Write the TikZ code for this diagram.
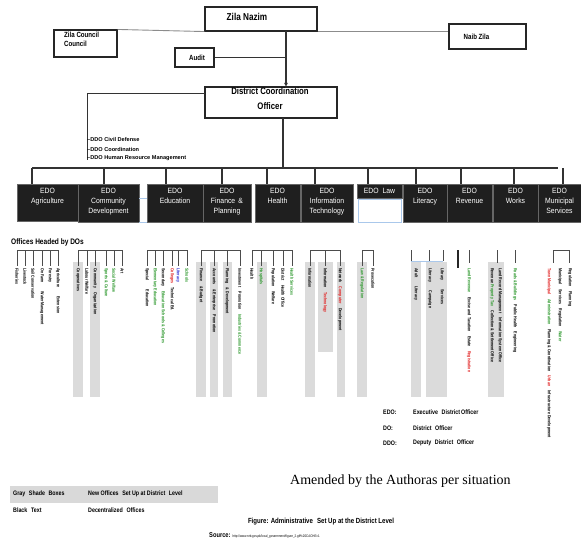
\documentclass[tikz,border=0pt]{standalone}
\usepackage{fontspec}
\setmainfont{Liberation Sans}
\newfontfamily\narrowf[FakeStretch=0.82]{Liberation Sans}
\newfontfamily\edof[FakeStretch=0.9]{Liberation Sans}
\newfontfamily\serf{Liberation Serif}
\usetikzlibrary{arrows.meta}
\definecolor{dgreen}{RGB}{40,150,40}
\definecolor{dred}{RGB}{225,30,30}
\definecolor{dblue}{RGB}{40,40,210}
\definecolor{lblue}{RGB}{170,200,235}
\newcommand{\docol}[2]{\node[dotxt] at (#1,268) {#2};}
\begin{document}
\begin{tikzpicture}[x=1pt,y=-1pt,
  topbox/.style={draw=black!85, line width=1.1pt, rectangle, inner sep=0},
  toptext/.style={font=\narrowf\bfseries\fontsize{7.5}{9}\selectfont, inner sep=0, align=left},
  edobox/.style={draw=black!60, fill=black!88, inner sep=0, line width=0.6pt, rectangle},
  edotext/.style={text=white, font=\edof\fontsize{7.6}{10.3}\selectfont, align=center, anchor=north, inner sep=0},
  conn/.style={line width=1.1pt, draw=black!80},
  grayconn/.style={line width=0.9pt, draw=black!45},
  dotxt/.style={rotate=-90, anchor=west, inner sep=0, font=\narrowf\bfseries\fontsize{4.4}{4.6}\selectfont},
  dol/.style={line width=0.9pt, draw=black!70},
  smalltxt/.style={font=\narrowf\bfseries\fontsize{6.5}{7}\selectfont, anchor=west, inner sep=0}
]
\useasboundingbox (0,0) rectangle (581,543);
\fill[white] (0,0) rectangle (581,543);

% ---------- top boxes ----------
\node[topbox, minimum width=112, minimum height=24] (nazim) at (261,19) {};
\node[toptext, font=\narrowf\bfseries\fontsize{10}{11}\selectfont] (nazimlbl) at (247,17) {Zila Nazim};
\node[topbox, minimum width=63, minimum height=27] (zc) at (85.5,43.5) {};
\node[toptext, anchor=north west] (zclbl) at (64,32) {Zila Council\\Council};
\node[topbox, minimum width=77, minimum height=25] (naib) at (487.5,36.5) {};
\node[toptext] (naiblbl) at (476.5,37) {Naib Zila};
\node[topbox, minimum width=39, minimum height=19] (audit) at (194.5,57.5) {};
\node[toptext] (auditlbl) at (197,58) {Audit};
\node[topbox, minimum width=132, minimum height=31] (dco) at (271,102.5) {};
\node[toptext, align=center, anchor=north, font=\narrowf\bfseries\fontsize{9.5}{15}\selectfont] (dcolbl) at (270,87.5) {District Coordination\\Officer};

% connectors at top
\draw[grayconn] (zc.north east) -- (nazim.south west);
\draw[grayconn] (nazim.south east) -- (nazim.south east -| naib.west);
\coordinate (nzb) at (286,31);
\draw[conn, -{Triangle[length=3.5pt,width=3.5pt]}] (nzb) -- (nzb |- dco.north);
\draw[conn] (audit.east) -- (audit.east -| nzb);
\coordinate (dcol) at (205,93);
\coordinate (ddocorner) at (87,93);
\coordinate (ddoend) at (87,160);
\draw[conn, line width=0.9pt] (dcol) -- (ddocorner) -- (ddoend);
\node[anchor=west, inner sep=0, font=\bfseries\fontsize{5.6}{6}\selectfont] (ddo1) at (87,139) {\textendash DDO Civil Defense};
\node[anchor=west, inner sep=0, font=\bfseries\fontsize{5.6}{6}\selectfont] (ddo2) at (87,149) {\textendash DDO Coordination};
\node[anchor=west, inner sep=0, font=\bfseries\fontsize{5.6}{6}\selectfont] (ddo3) at (87,158) {\textendash DDO Human Resource Management};

% bus
\coordinate (dcob) at (283,118);
\coordinate (busmid) at (283,168);
\draw[conn] (dcob) -- (busmid);
\coordinate (busl) at (32,168);
\coordinate (busr) at (558,168);
\draw[conn] (busl) -- (busr);

% ---------- EDO boxes ----------
\node[edobox, minimum width=61, minimum height=37] (agri) at (47.5,202.5) {};
\node[edobox, minimum width=61, minimum height=38] (cd) at (108.5,203) {};
\node[edobox, minimum width=56, minimum height=38] (edu) at (175,203) {};
\node[edobox, minimum width=48, minimum height=38] (fp) at (227,203) {};
\node[edobox, minimum width=45, minimum height=38] (hea) at (277.5,203) {};
\node[edobox, minimum width=52, minimum height=38] (it) at (327,203) {};
\node[edobox, minimum width=45, minimum height=14] (law) at (379.5,191) {};
\node[draw=lblue, fill=white, line width=0.6pt, inner sep=0, minimum width=43, minimum height=23] (lawb) at (379.5,210.5) {};
\node[edobox, minimum width=44, minimum height=38] (lit) at (425,203) {};
\node[edobox, minimum width=45, minimum height=38] (rev) at (469.5,203) {};
\node[edobox, minimum width=45, minimum height=38] (wor) at (515.5,203) {};
\node[edobox, minimum width=43, minimum height=38] (mun) at (559.5,203) {};
\draw[lblue, line width=0.6pt] (cd.east |- 0,198) -- (edu.west |- 0,198);
\draw[lblue, line width=0.6pt] (cd.south east) -- (edu.south west);

\node[edotext] (agril) at ([yshift=-4]agri.north) {EDO\\Agriculture};
\node[edotext] (cdl) at ([yshift=-4]cd.north) {EDO\\Community\\Development};
\node[edotext] (edul) at ([yshift=-4]edu.north) {EDO\\Education};
\node[edotext] (fpl) at ([yshift=-4]fp.north) {EDO\\Finance \,\&\\Planning};
\node[edotext] (heal) at ([yshift=-4]hea.north) {EDO\\Health};
\node[edotext] (itl) at ([yshift=-4]it.north) {EDO\\Information\\Technology};
\node[edotext, anchor=center] (lawl) at (law.center) {EDO\,\,\,Law};
\node[edotext] (litl) at ([yshift=-4]lit.north) {EDO\\Literacy};
\node[edotext] (revl) at ([yshift=-4]rev.north) {EDO\\Revenue};
\node[edotext] (worl) at ([yshift=-4]wor.north) {EDO\\Works};
\node[edotext] (munl) at ([yshift=-4]mun.north) {EDO\\Municipal\\Services};

\foreach \x/\b in {32/agri,104/cd,166/edu,222/fp,267/hea,315/it,368/law,416/lit,461/rev,514/wor}
  \draw[conn] (\x,168) -- (\x,168 |- \b.north);
\coordinate (tick) at (563,168);
\draw[conn] (tick) -- (tick |- mun.north);

% ---------- Offices headed by DOs ----------
\node[anchor=west, inner sep=0, font=\narrowf\bfseries\fontsize{8}{9}\selectfont] (offh) at (11,242) {Offices Headed by DOs};

% gray bars
\foreach \a/\b in {73/83,90/100,196/206,210/218,223/232,257/267,305/315,337/345,357/367,411/421,426/447,488/504}
  \fill[black!14] (\a,262) rectangle (\b,397);
\fill[black!14] (318,262) rectangle (333,352);

% brackets
\draw[dol] (17,250) -- (58,250);
\foreach \x in {17,25,33,42,50,58} \draw[dol] (\x,250) -- (\x,266);
\draw[dol] (78,250) -- (122,250);
\foreach \x in {78,87,95,106,114,122} \draw[dol] (\x,250) -- (\x,266);
\draw[dol] (147,250) -- (187,250);
\foreach \x in {147,155,163,172,178,187} \draw[dol] (\x,250) -- (\x,266);
\draw[dol] (201,250) -- (240,250);
\foreach \x in {201,214,227,240} \draw[dol] (\x,250) -- (\x,266);
\draw[dol] (252,250) -- (292,250);
\foreach \x in {252,261,273,283,292} \draw[dol] (\x,250) -- (\x,266);
\draw[dol] (310,250) -- (340,250);
\foreach \x in {310,325,340} \draw[dol] (\x,250) -- (\x,266);
\draw[dol] (362,250) -- (373,250);
\foreach \x in {362,373} \draw[dol] (\x,250) -- (\x,266);
\foreach \x in {411,429,443} \draw[dol] (\x,250) -- (\x,261);
\draw[draw=lblue, line width=0.9pt] (411,261) -- (443,261);
\draw[line width=2pt, black!85] (458,250) -- (458,268);
\foreach \x in {469,497,515} \draw[dol] (\x,250) -- (\x,263);
\draw[dol] (553,250) -- (569,250);
\foreach \x in {553,569} \draw[dol] (\x,250) -- (\x,263);

% vertical office texts
\docol{17}{Fisheries}
\docol{25}{Livestock}
\docol{33}{Soil Conservation}
\docol{42}{On Farm\qquad Water Management}
\docol{50}{Forestry}
\docol{58}{Agriculture\qquad Extension}
\docol{78}{Cooperatives}
\docol{87}{Labour Welfare}
\docol{95}{Community\quad Organization}
\docol{106}{\color{dgreen}Sports \& Culture}
\docol{114}{\color{dgreen}Social Welfare}
\docol{122}{Art}
\docol{147}{Special\qquad Education}
\docol{155}{\color{dgreen}Elementary Education}
\docol{163}{Secondary\quad\color{dgreen}Education Schools \& Colleges\quad}
\docol{172}{\color{dred}Colleges\quad\color{black}Technical Ed.}
\docol{178}{\color{dblue}Literacy}
\docol{187}{\color{dgreen}Schools}
\docol{201}{Finance\quad \& Budget}
\docol{214}{Accounts\quad \& Enterprise\quad Promotion}
\docol{227}{Planning\quad \& Development}
\docol{240}{Investment\quad Promotion\quad \color{dgreen}Industries \& Commerce\quad}
\docol{252}{Health}
\docol{261}{\color{dgreen}Hospitals}
\docol{273}{Population\quad Welfare}
\docol{283}{District\quad Health Office}
\docol{292}{\color{dgreen}Health Services}
\docol{310}{Information}
\docol{325}{Information\quad\color{dred}Technology}
\docol{340}{Network\quad\color{dred}Computer\quad\color{black}Development}
\docol{362}{\color{dgreen}Law \& Regulation}
\docol{373}{Prosecution}
\docol{416}{Adult\qquad Literacy}
\docol{430}{Literacy\qquad Campaign}
\docol{442}{Library\qquad Services}
\docol{469}{\color{dgreen}Land Revenue\quad\color{black}Excise and Taxation\quad Estate\quad\color{dred}Registration}
\docol{492}{Revenue \color{dgreen}Property Tax\color{black}\quad Collection \& Settlement Office}
\docol{500}{Land Record Management\quad Information System Office}
\docol{515}{\color{dgreen}Roads \& Buildings\color{black}\quad Public Health\quad Engineering}
\docol{549}{\color{dred}Town Municipal\quad\color{dgreen}Administration\color{black}\quad Planning \& Coordination\quad \color{dred}Urban\quad\color{black}Infrastructure Development}
\docol{560}{Municipal\quad Services\quad Regulation\quad \color{dgreen}Water}
\docol{570}{Regulation\quad Planning}

% ---------- legend ----------
\node[smalltxt] (k1) at (383,412) {EDO:};
\node[smalltxt] (v1) at (413,412) {Executive\,\, District\,Officer};
\node[smalltxt] (k2) at (383,428) {DO:};
\node[smalltxt] (v2) at (413,428) {District\,\, Officer};
\node[smalltxt] (k3) at (383,443) {DDO:};
\node[smalltxt] (v3) at (413,443) {Deputy\,\, District\,\, Officer};

% ---------- bottom ----------
\node[anchor=west, inner sep=0, font=\serf\fontsize{14}{16}\selectfont] (amend) at (290,481) {Amended by the Authoras per situation};
\fill[black!15] (10,486) rectangle (218,503);
\node[smalltxt] (g1) at (13,494) {Gray\,\, Shade\,\, Boxes};
\node[smalltxt] (g2) at (88,494) {New Offices\,\, Set Up at District\,\, Level};
\node[smalltxt] (b1) at (13,510) {Black\,\, Text};
\node[smalltxt] (b2) at (88,510) {Decentralized\,\, Offices};
\node[anchor=center, inner sep=0, font=\narrowf\bfseries\fontsize{7.4}{8}\selectfont] (fig) at (321,522) {Figure: Administrative\,\, Set Up at the District Level};
\node[anchor=west, inner sep=0, font=\narrowf\bfseries\fontsize{7}{8}\selectfont] (src) at (209,535) {Source: {\mdseries\fontsize{3.6}{4}\selectfont http://www.nrb.gov.pk/local\_government/figure\_2.gif\%20CACHE=1}};
\end{tikzpicture}
\end{document}
